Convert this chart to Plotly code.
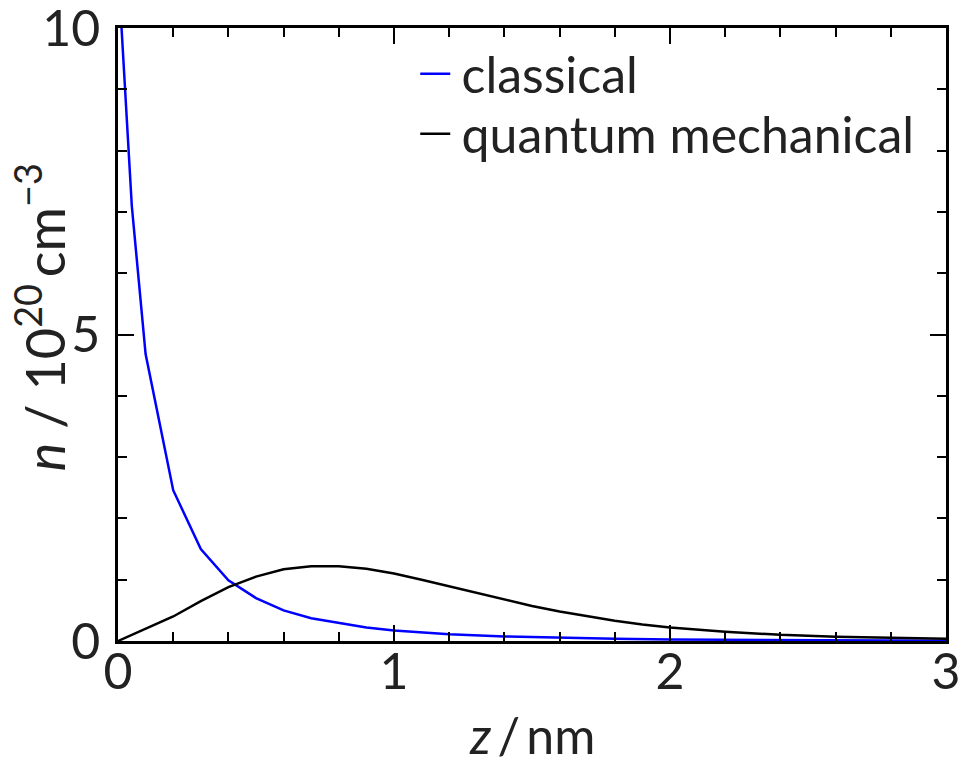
import plotly.graph_objects as go

# Electron density profiles n(z) near an interface
z_classical = [0.0, 0.05, 0.1, 0.2, 0.3, 0.4, 0.5, 0.6, 0.7, 0.8, 0.9, 1.0,
               1.2, 1.4, 1.6, 1.8, 2.0, 2.2, 2.4, 2.6, 2.8, 3.0]
n_classical = [11.0, 7.1, 4.68, 2.46, 1.50, 0.99, 0.70, 0.50, 0.37, 0.29, 0.22, 0.17,
               0.11, 0.075, 0.05, 0.035, 0.025, 0.018, 0.013, 0.009, 0.007, 0.005]

z_quantum = [0.0, 0.1, 0.2, 0.3, 0.4, 0.5, 0.6, 0.7, 0.8, 0.9, 1.0, 1.1, 1.2, 1.3,
             1.4, 1.5, 1.6, 1.7, 1.8, 1.9, 2.0, 2.2, 2.4, 2.6, 2.8, 3.0]
n_quantum = [0.0, 0.2, 0.40, 0.65, 0.88, 1.05, 1.17, 1.22, 1.22, 1.18, 1.10, 1.00, 0.89, 0.78,
             0.67, 0.57, 0.48, 0.40, 0.33, 0.27, 0.22, 0.15, 0.10, 0.07, 0.05, 0.035]

x_ticks = [0, 1, 2, 3]
y_ticks = [0, 5, 10]

FONT = "Lato"
TXT = "#222222"
FS = 50

fig = go.Figure()
# a thin space keeps the legend text clear of its line sample
fig.add_trace(go.Scatter(x=z_classical, y=n_classical, mode="lines", name="\u2009classical",
                         line=dict(color="#0000ff", width=2.5), legend="legend",
                         showlegend=True))
fig.add_trace(go.Scatter(x=z_quantum, y=n_quantum, mode="lines", name="\u2009quantum mechanical",
                         line=dict(color="#000000", width=2.5), legend="legend2",
                         showlegend=True))

axis_common = dict(
    showline=True, linecolor="black", linewidth=2.5, mirror="allticks",
    ticks="inside", tickcolor="black", tickwidth=2, ticklen=16,
    showgrid=False, zeroline=False, automargin=False, ticklabeloverflow="allow",
    tickfont=dict(family=FONT, size=FS, color=TXT),
)

fig.update_xaxes(
    range=[0, 3], tickvals=x_ticks, ticktext=[str(v) for v in x_ticks],
    ticklabelstandoff=-15,
    minor=dict(dtick=0.2, ticks="inside", ticklen=9, tickwidth=2, tickcolor="black", showgrid=False),
    **axis_common,
)
fig.update_yaxes(
    range=[0, 10], tickvals=y_ticks, ticktext=[str(v) for v in y_ticks],
    ticklabelstandoff=5,
    minor=dict(dtick=1, ticks="inside", ticklen=9, tickwidth=2, tickcolor="black", showgrid=False),
    **axis_common,
)

# axis titles
fig.add_annotation(text="<i>z</i>\u2009/\u2009nm", xref="paper", yref="paper", x=0.5, y=-0.153,
                   xanchor="center", yanchor="middle", showarrow=False,
                   font=dict(family=FONT, size=FS, color=TXT))
fig.add_annotation(text="<i>n</i> / 10<sup>20</sup>\u2009cm<sup>−3</sup>",
                   xref="paper", yref="paper",
                   x=-0.092, y=0.528, xanchor="center", yanchor="middle", textangle=-90,
                   showarrow=False, font=dict(family=FONT, size=54, color=TXT))

legend_common = dict(xanchor="left", yanchor="top", bgcolor="rgba(0,0,0,0)", borderwidth=0,
                     font=dict(family=FONT, size=FS, color=TXT))

fig.update_layout(
    width=965, height=760,
    margin=dict(l=118, r=19, t=28, b=119),
    paper_bgcolor="white", plot_bgcolor="white",
    font=dict(family=FONT, color=TXT),
    showlegend=True,
    legend=dict(x=0.359, y=0.989, **legend_common),
    legend2=dict(x=0.359, y=0.891, **legend_common),
)

fig.write_html("out.html")
